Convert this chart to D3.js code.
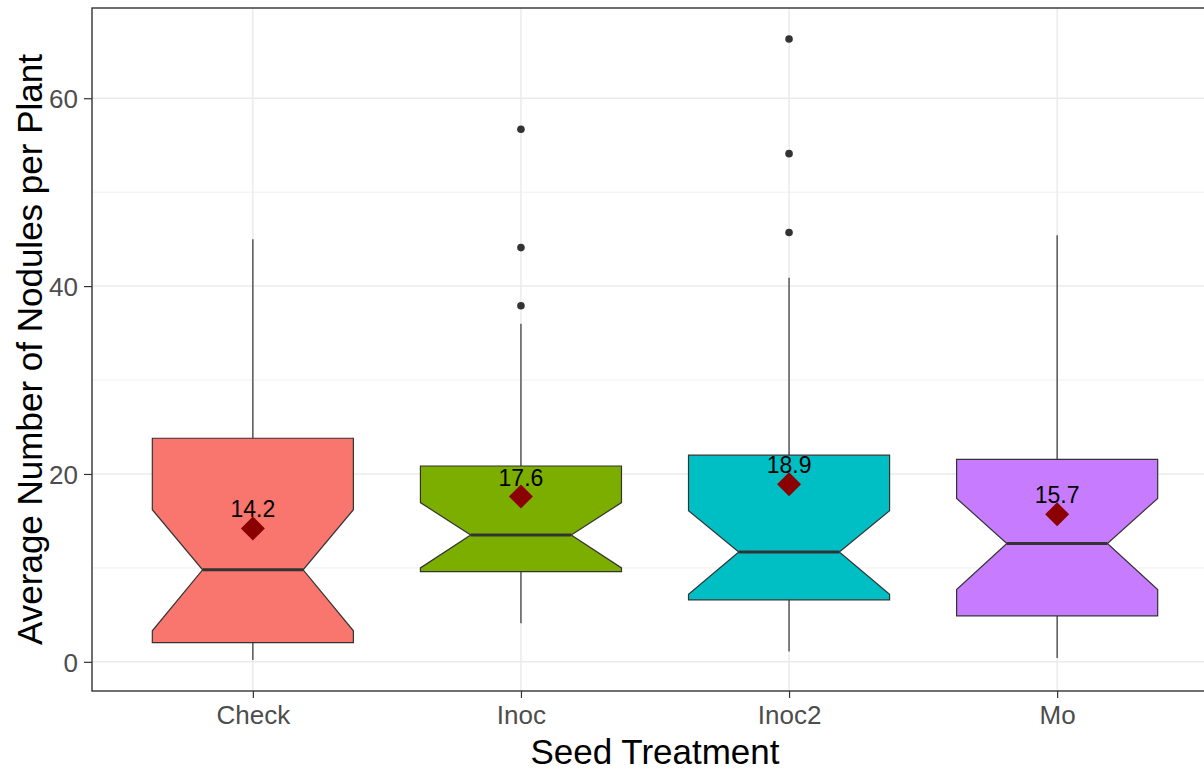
<!DOCTYPE html>
<html>
<head>
<meta charset="utf-8">
<script src="https://cdn.jsdelivr.net/npm/d3@7"></script>
<style>
  html, body { margin: 0; padding: 0; background: #ffffff; }
  svg { display: block; }
  text { font-family: "Liberation Sans", Arial, sans-serif; }
</style>
</head>
<body>
<svg id="chart" width="1204" height="770"></svg>
<script>
// Nodule counts per plant by seed treatment: notched box plots with means
const categories = ["Check", "Inoc", "Inoc2", "Mo"];
const fills = ["#F8766D", "#7CAE00", "#00BFC4", "#C77CFF"];
const q1 = [2.05, 9.6, 6.6, 4.9];
const medians = [9.8, 13.5, 11.7, 12.6];
const q3 = [23.8, 20.85, 22.0, 21.55];
const whiskerLow = [0.2, 4.1, 1.1, 0.4];
const whiskerHigh = [45.0, 36.0, 40.9, 45.4];
const notchLow = [3.3, 10.0, 7.2, 7.7];
const notchHigh = [16.2, 16.95, 16.1, 17.4];
const means = [14.2, 17.6, 18.9, 15.7];
const outliers = [[], [56.7, 44.1, 37.9], [66.3, 54.1, 45.7], []];
const yMajorTicks = [0, 20, 40, 60];
const yMinorTicks = [10, 30, 50];
const xTitle = "Seed Treatment";
const yTitle = "Average Number of Nodules per Plant";

const svg = d3.select("#chart");
const panel = { left: 92, right: 1218, top: 8, bottom: 691 };

const x = d3.scalePoint()
  .domain(categories)
  .range([panel.left, panel.right])
  .padding(0.6);
const step = x.step();
const boxW = step * 0.75;

// y domain: data extent expanded by 5% on each side
const allVals = whiskerLow.concat(whiskerHigh, outliers.flat(), q1, q3);
const lo = d3.min(allVals), hi = d3.max(allVals);
const pad = (hi - lo) * 0.05;
const y = d3.scaleLinear()
  .domain([lo - pad, hi + pad])
  .range([panel.bottom, panel.top]);

const grid = svg.append("g");
grid.selectAll("line.minor").data(yMinorTicks).join("line")
  .attr("x1", panel.left).attr("x2", panel.right)
  .attr("y1", d => y(d)).attr("y2", d => y(d))
  .attr("stroke", "#EBEBEB").attr("stroke-width", 0.8);
grid.selectAll("line.major").data(yMajorTicks).join("line")
  .attr("x1", panel.left).attr("x2", panel.right)
  .attr("y1", d => y(d)).attr("y2", d => y(d))
  .attr("stroke", "#EBEBEB").attr("stroke-width", 1.5);
grid.selectAll("line.vmajor").data(categories).join("line")
  .attr("x1", d => x(d)).attr("x2", d => x(d))
  .attr("y1", panel.top).attr("y2", panel.bottom)
  .attr("stroke", "#EBEBEB").attr("stroke-width", 1.5);

const data = categories.map((c, i) => ({
  cat: c, fill: fills[i], q1: q1[i], med: medians[i], q3: q3[i],
  wl: whiskerLow[i], wh: whiskerHigh[i], nl: notchLow[i], nh: notchHigh[i],
  mean: means[i], out: outliers[i]
}));

const boxes = svg.append("g").selectAll("g").data(data).join("g");
const edge = "#333333";

// whiskers
boxes.append("line")
  .attr("x1", d => x(d.cat)).attr("x2", d => x(d.cat))
  .attr("y1", d => y(d.q3)).attr("y2", d => y(d.wh))
  .attr("stroke", edge).attr("stroke-width", 1.2);
boxes.append("line")
  .attr("x1", d => x(d.cat)).attr("x2", d => x(d.cat))
  .attr("y1", d => y(d.q1)).attr("y2", d => y(d.wl))
  .attr("stroke", edge).attr("stroke-width", 1.2);

// notched box outline
boxes.append("path")
  .attr("d", d => {
    const xmin = x(d.cat) - boxW / 2, xmax = x(d.cat) + boxW / 2;
    const indent = boxW * 0.25;
    const pts = [
      [xmin, y(d.q3)], [xmin, y(d.nh)], [xmin + indent, y(d.med)],
      [xmin, y(d.nl)], [xmin, y(d.q1)], [xmax, y(d.q1)],
      [xmax, y(d.nl)], [xmax - indent, y(d.med)], [xmax, y(d.nh)],
      [xmax, y(d.q3)]
    ];
    return d3.line()(pts) + "Z";
  })
  .attr("fill", d => d.fill)
  .attr("stroke", edge).attr("stroke-width", 1.2);

// median line
boxes.append("line")
  .attr("x1", d => x(d.cat) - boxW / 4).attr("x2", d => x(d.cat) + boxW / 4)
  .attr("y1", d => y(d.med)).attr("y2", d => y(d.med))
  .attr("stroke", edge).attr("stroke-width", 3);

// outliers
boxes.selectAll("circle").data(d => d.out.map(v => ({ cat: d.cat, v }))).join("circle")
  .attr("cx", d => x(d.cat)).attr("cy", d => y(d.v))
  .attr("r", 3.8).attr("fill", edge);

// mean diamonds and labels
const dsz = 12;
boxes.append("path")
  .attr("d", d => {
    const cx = x(d.cat), cy = y(d.mean);
    return d3.line()([[cx, cy - dsz], [cx + dsz, cy], [cx, cy + dsz], [cx - dsz, cy]]) + "Z";
  })
  .attr("fill", "#8B0000");
boxes.append("text")
  .attr("x", d => x(d.cat)).attr("y", d => y(d.mean) - 11)
  .attr("text-anchor", "middle")
  .attr("font-size", 23)
  .attr("fill", "#000000")
  .text(d => d3.format(".1f")(d.mean));

// panel border
svg.append("rect")
  .attr("x", panel.left).attr("y", panel.top)
  .attr("width", panel.right - panel.left).attr("height", panel.bottom - panel.top)
  .attr("fill", "none").attr("stroke", "#333333").attr("stroke-width", 1.4);

// axes
const yAxis = svg.append("g")
  .attr("transform", `translate(${panel.left},0)`)
  .call(d3.axisLeft(y).tickValues(yMajorTicks).tickSize(8).tickPadding(6));
const xAxis = svg.append("g")
  .attr("transform", `translate(0,${panel.bottom})`)
  .call(d3.axisBottom(x).tickSize(7).tickPadding(8));
[yAxis, xAxis].forEach(a => {
  a.select(".domain").remove();
  a.selectAll(".tick line").attr("stroke", "#333333").attr("stroke-width", 1.2);
  a.selectAll(".tick text")
    .attr("fill", "#4D4D4D")
    .attr("font-size", 26)
    .attr("font-family", '"Liberation Sans", Arial, sans-serif');
});
yAxis.selectAll(".tick text").attr("dy", "0.36em");

// axis titles
svg.append("text")
  .attr("x", (panel.left + panel.right) / 2).attr("y", 764)
  .attr("text-anchor", "middle").attr("font-size", 35).attr("fill", "#000")
  .text(xTitle);
svg.append("text")
  .attr("transform", `translate(42,${(panel.top + panel.bottom) / 2}) rotate(-90)`)
  .attr("text-anchor", "middle").attr("font-size", 35).attr("fill", "#000")
  .text(yTitle);
</script>
</body>
</html>
